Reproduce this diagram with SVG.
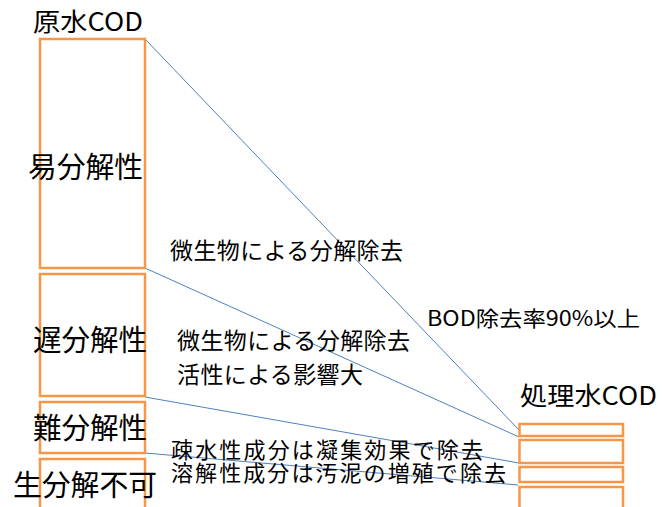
<svg xmlns="http://www.w3.org/2000/svg" width="664" height="507" viewBox="0 0 664 507">
<style>
.box{fill:#fff;stroke:#F79646;stroke-width:2.5}
.ln{stroke:#4F81BD;stroke-width:1;fill:none}
text{font-family:"Noto Sans CJK JP","Noto Sans",sans-serif;fill:#000}
.big{font-size:29px}
.mid{font-size:23px}
.low{font-size:22px}
</style>
<rect width="664" height="507" fill="#fff"/>
<g id="connectors">
<line class="ln" x1="145" y1="39" x2="519" y2="430"/>
<line class="ln" x1="145" y1="268" x2="519" y2="437"/>
<line class="ln" x1="145" y1="397" x2="519" y2="463"/>
<line class="ln" x1="145" y1="453" x2="518" y2="485"/>
</g>
<g id="raw-cod"><text x="33" y="31" font-size="25" textLength="110" lengthAdjust="spacingAndGlyphs">原水COD</text></g>
<g id="easy"><rect class="box" x="40" y="39" width="105" height="229"/><text class="big" x="28" y="178" textLength="115" lengthAdjust="spacingAndGlyphs">易分解性</text></g>
<g id="slow"><rect class="box" x="40" y="274" width="105" height="122"/><text class="big" x="33" y="351" textLength="114" lengthAdjust="spacingAndGlyphs">遅分解性</text></g>
<g id="hard"><rect class="box" x="40" y="402" width="105" height="51"/><text class="big" x="33" y="439" textLength="114" lengthAdjust="spacingAndGlyphs">難分解性</text></g>
<g id="nonbio"><rect class="box" x="40" y="459" width="105" height="60"/><text class="big" x="13" y="496" textLength="144" lengthAdjust="spacingAndGlyphs">生分解不可</text></g>
<g id="treated-cod">
<text x="520" y="405" font-size="25" textLength="137" lengthAdjust="spacingAndGlyphs">処理水COD</text>
<rect class="box" x="519.5" y="424" width="103.5" height="12"/>
<rect class="box" x="519.5" y="440" width="103.5" height="23"/>
<rect class="box" x="519.5" y="467" width="103.5" height="15"/>
<rect class="box" x="519.5" y="487" width="103.5" height="30"/>
</g>
<g id="labels">
<text class="mid" x="170" y="259" textLength="233">微生物による分解除去</text>
<text class="mid" x="177" y="349" textLength="233">微生物による分解除去</text>
<text class="mid" x="177" y="383" textLength="186">活性による影響大</text>
<text class="low" x="171" y="458" textLength="312">疎水性成分は凝集効果で除去</text>
<text class="low" x="171" y="481" textLength="335">溶解性成分は汚泥の増殖で除去</text>
<text x="427" y="326" font-size="21" textLength="213" lengthAdjust="spacingAndGlyphs">BOD除去率90%以上</text>
</g>
</svg>
